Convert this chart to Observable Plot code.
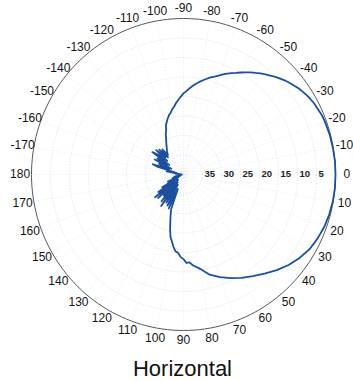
<!DOCTYPE html>
<html><head><meta charset="utf-8">
<script src="https://cdn.jsdelivr.net/npm/d3@7"></script>
<script src="https://cdn.jsdelivr.net/npm/@observablehq/plot@0.6"></script>
<style>
body{margin:0;background:#fff;}
#chart{position:relative;width:353px;height:381px;overflow:hidden;}
#title{position:absolute;left:0;top:356px;width:365px;text-align:center;font:22px "Liberation Sans",Arial,sans-serif;line-height:25px;color:#111;}
</style></head><body>
<div id="chart"><div id="title">Horizontal</div></div>
<script>
// Measured pattern: angle (deg, 0 = right, positive = clockwise/down) and attenuation (dB)
const angles = [
  -179,-176,-173,-170,-167,-164,-162,-160,-157,-155,-153,-151,-149,-147,-145,-143,-141,-139,-137,-135,-133,-131,-129,-127,-124,-122,-120,-118,
  -116,-114,-112,-110,-108,-106,-104,-102,-100,-98,-96,-94,-92,-90,-88,-86,-84,-82,-80,-78,-76,-74,-72,-70,-68,-66,-64,-62,-60,-58,-56,-54,-52,-50,
  -48,-46,-44,-42,-40,-38,-36,-34,-32,-30,-28,-26,-24,-22,-20,-15,-10,-5,0,5,10,15,20,25,30,35,40,45,50,55,60,65,70,75,80,84,86,88,90,92,94,96,98,100,102,104,106,
  108,110,112,114,116,118,120,122,124,126,128,130,132,134,136,138,140,142,144,146,148,150,153,156,159,162,165,168,171,174,177
];
const atten = [
  39.5,38,39,35.5,38,33,31.5,36,33,36.5,31.5,35,32,35.5,30,31.5,34.5,30.5,33.5,31,34,31.5,33.5,32.8,32.2,31.6,31,30.3,
  29.5,28.5,27.8,26.5,25.8,25,24.3,23.8,23,22.4,21.5,20.8,20,19.2,18.6,17.9,17.2,16.5,15.9,15.3,14.7,14.1,13.6,13,12.3,11.7,11.1,10.5,9.8,9.1,8.4,7.8,7.1,6.5,
  5.9,5.2,4.6,4,3.5,3,2.5,2.1,1.7,1.4,1.1,0.9,0.7,0.5,0.4,0.2,0.1,0,0,0,0.1,0.3,0.6,1.1,1.7,2.7,3.9,5.3,6.8,8.2,9.4,10.7,12,13.4,15.5,16.6,17.4,17.3,18.3,18.8,19.8,20.2,21.2,22.5,23.6,25.4,27.4,
  29,30.5,36,30.5,35,31,37,31.5,36,30,37.5,31,36,32.5,38,31,36.5,30.5,37,32,38,33.5,38.5,35.5,39,37,39,37.5,39.5,38.5,39.5
];
const angleTicks = [0,-10,-20,-30,-40,-50,-60,-70,-80,-90,-100,-110,-120,-130,-140,-150,-160,-170,180,170,160,150,140,130,120,110,100,90,80,70,60,50,40,30,20,10];
const ringDb = [5,10,15,20,25,30,35];
const ringLabels = ["5","10","15","20","25","30","35"];
const maxDb = 40;

const rad = d => d * Math.PI / 180;
const rOf = db => 1 - db / maxDb;

const pattern = angles.map((a, i) => ({x: rOf(atten[i]) * Math.cos(rad(a)), y: rOf(atten[i]) * Math.sin(rad(a))}));

const circleSteps = d3.range(0, 361, 2);
const rings = ringDb.flatMap(db => circleSteps.map(t => ({db, x: rOf(db) * Math.cos(rad(t)), y: rOf(db) * Math.sin(rad(t))})));
const outer = circleSteps.map(t => ({x: Math.cos(rad(t)), y: Math.sin(rad(t))}));
const spokes = angleTicks.map(a => ({x2: Math.cos(rad(a)), y2: Math.sin(rad(a))}));
const tickLabels = angleTicks.map(a => ({label: String(a), x: 1.075 * Math.cos(rad(a)), y: 1.065 * Math.sin(rad(a))}));
const radLabels = ringDb.map((db, i) => ({label: ringLabels[i], x: rOf(db), y: 0}));

const plot = Plot.plot({
  width: 353,
  height: 352,
  x: {domain: [-1, 1], range: [31, 335], axis: null},
  y: {domain: [-1, 1], range: [18, 330], axis: null},
  style: {background: "transparent", fontFamily: "'Liberation Sans', Arial, sans-serif"},
  marks: [
    Plot.link(spokes, {x1: 0, y1: 0, x2: "x2", y2: "y2", stroke: "#dbe3f2", strokeWidth: 0.7, strokeDasharray: "1,2"}),
    Plot.line(rings, {x: "x", y: "y", z: "db", stroke: "#dbe3f2", strokeWidth: 0.7, strokeDasharray: "1,2"}),
    Plot.line(outer, {x: "x", y: "y", stroke: "#444", strokeWidth: 0.9}),
    Plot.text(radLabels, {x: "x", y: "y", text: "label", textAnchor: "start", dx: 2, dy: -1, fontSize: 9.5, fontWeight: "bold", fill: "#222"}),
    Plot.text(tickLabels, {x: "x", y: "y", text: "label", fontSize: 12, fill: "#111"}),
    Plot.line(pattern, {x: "x", y: "y", curve: "linear-closed", stroke: "#1d4f9f", strokeWidth: 1.8, strokeLinejoin: "round"})
  ]
});
document.getElementById("chart").prepend(plot);
</script>
</body></html>
